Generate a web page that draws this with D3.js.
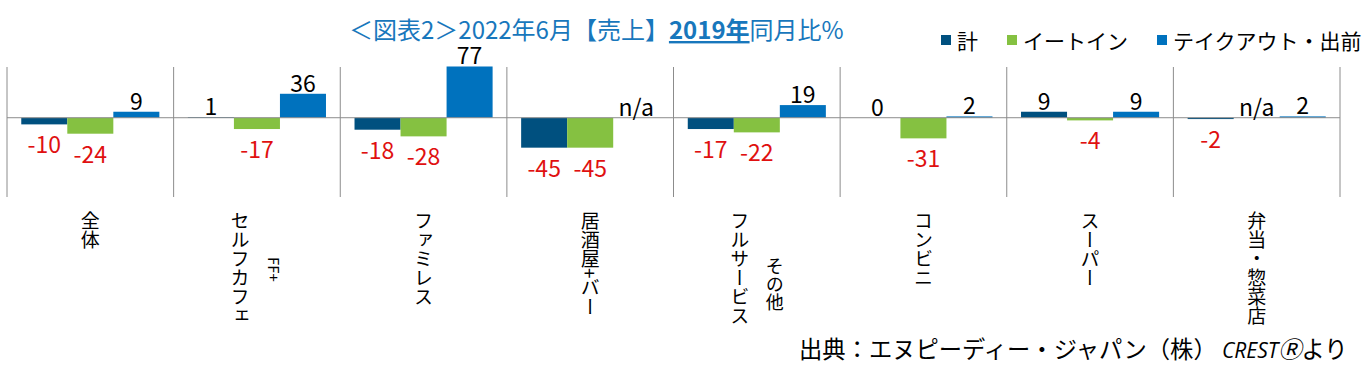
<!DOCTYPE html>
<html>
<head>
<meta charset="utf-8">
<script src="https://cdn.jsdelivr.net/npm/d3@7"></script>
<style>
  body { margin: 0; background: #fff; }
  svg text { font-family: "Noto Sans CJK JP", "Noto Sans", sans-serif; }
</style>
</head>
<body>
<svg id="chart" width="1371" height="374"></svg>
<script>
/* DATA */
const categories = ["全体", "セルフカフェ", "ファミレス", "居酒屋+バー", "フルサービス", "コンビニ", "スーパー", "弁当・惣菜店"];
const subLabels = ["", "FF+", "", "", "その他", "", "", ""];
const seriesNames = ["計", "イートイン", "テイクアウト・出前"];
const totalValues = [-10, 1, -18, -45, -17, 0, 9, -2];
const eatInValues = [-24, -17, -28, -45, -22, -31, -4, null];
const takeoutValues = [9, 36, 77, null, 19, 2, 9, 2];
const colors = ["#00507F", "#85C141", "#0072BE"];

const svg = d3.select('#chart');

/* SCALES */
const x = d3.scaleBand().domain(categories).range([7, 1340]).padding(0);
const xs = d3.scaleBand().domain(seriesNames).range([0, x.bandwidth()])
  .paddingInner(0).paddingOuter(0.31);
const y = d3.scaleLinear().domain([-50, 80]).range([151, 64.5]);

const rows = [];
const seriesValues = [totalValues, eatInValues, takeoutValues];
categories.forEach(function(c, i){
  seriesNames.forEach(function(s, j){
    rows.push({cat: c, series: s, idx: j, value: seriesValues[j][i]});
  });
});

/* GRID: category separators */
svg.append('g').selectAll('line')
  .data(d3.range(categories.length + 1))
  .join('line')
  .attr('x1', function(i){ return x.range()[0] + i * x.step(); })
  .attr('x2', function(i){ return x.range()[0] + i * x.step(); })
  .attr('y1', 67).attr('y2', 197)
  .attr('stroke', '#8c8c8c').attr('stroke-width', 1);

/* BARS */
svg.append('g').selectAll('rect')
  .data(rows.filter(function(d){ return d.value !== null; }))
  .join('rect')
  .attr('x', function(d){ return x(d.cat) + xs(d.series); })
  .attr('width', xs.bandwidth())
  .attr('y', function(d){ return y(Math.max(0, d.value)); })
  .attr('height', function(d){ return Math.abs(y(d.value) - y(0)); })
  .attr('fill', function(d){ return colors[d.idx]; });

/* zero line */
svg.append('line')
  .attr('x1', x.range()[0]).attr('x2', x.range()[1])
  .attr('y1', y(0)).attr('y2', y(0))
  .attr('stroke', '#8c8c8c').attr('stroke-width', 1);

/* VALUE LABELS */
svg.append('g').selectAll('text')
  .data(rows)
  .join('text')
  .attr('x', function(d){ return x(d.cat) + xs(d.series) + xs.bandwidth() / 2; })
  .attr('y', function(d){
    if (d.value !== null && d.value < 0) return y(d.value) + 19;
    return y(d.value === null ? 0 : d.value) - 12;
  })
  .attr('text-anchor', 'middle')
  .attr('dominant-baseline', 'central')
  .attr('font-size', 23)
  .attr('fill', function(d){ return (d.value !== null && d.value < 0) ? '#E01010' : '#000'; })
  .text(function(d){ return d.value === null ? 'n/a' : d.value; });

/* CATEGORY LABELS (vertical) */
const catG = svg.append('g');
categories.forEach(function(c, i){
  const cx = x(c) + x.bandwidth() / 2;
  const hasSub = subLabels[i] !== "";
  catG.append('text')
    .attr('x', hasSub ? cx - 17 : cx)
    .attr('y', 211)
    .style('writing-mode', 'vertical-rl')
    .attr('font-size', 19)
    .attr('fill', '#000')
    .text(c);
  if (hasSub) {
    catG.append('text')
      .attr('x', cx + 18)
      .attr('y', 257)
      .style('writing-mode', 'vertical-rl')
      .attr('font-size', /[A-Z]/.test(subLabels[i]) ? 15 : 18)
      .attr('fill', '#000')
      .text(subLabels[i]);
  }
});

/* TITLE */
const title = svg.append('text')
  .attr('x', 349).attr('y', 39)
  .attr('font-size', 24)
  .attr('fill', '#1877BC');
title.append('tspan').text('＜図表2＞2022年6月【売上】');
title.append('tspan').attr('font-weight', 'bold').attr('text-decoration', 'underline').text('2019年');
title.append('tspan').text('同月比%');

/* LEGEND */
const legendX = [941, 1007, 1157];
const legend = svg.append('g').selectAll('g')
  .data(seriesNames)
  .join('g')
  .attr('transform', function(d, i){ return 'translate(' + legendX[i] + ',35)'; });
legend.append('rect').attr('width', 10).attr('height', 10)
  .attr('fill', function(d, i){ return colors[i]; });
legend.append('text').attr('x', 16).attr('y', 5)
  .attr('dominant-baseline', 'central')
  .attr('font-size', 21)
  .attr('fill', '#000')
  .text(function(d){ return d; });

/* SOURCE */
const src = svg.append('text')
  .attr('x', 799).attr('y', 358)
  .attr('font-size', 23.3)
  .attr('fill', '#000');
src.append('tspan').text('出典：エヌピーディー・ジャパン（株） ');
src.append('tspan').attr('font-style', 'italic').attr('font-family', 'Open Sans').attr('font-size', 21).text('CREST');
src.append('tspan').attr('font-style', 'italic').text('Ⓡ');
src.append('tspan').text('より');
</script>
</body>
</html>
